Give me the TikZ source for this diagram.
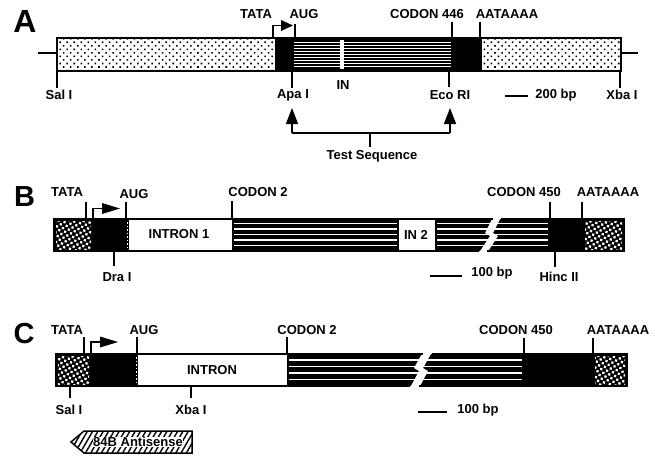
\documentclass[tikz,border=0pt]{standalone}
\usepackage{fontspec}
\setmainfont{Liberation Sans}
\usetikzlibrary{patterns.meta,arrows.meta}
\begin{document}
\begin{tikzpicture}[x=1pt,y=-1pt,
  lab/.style={font=\bfseries\fontsize{13}{13}\selectfont, inner sep=0pt},
  panelA/.style={font=\bfseries\fontsize{32}{32}\selectfont, inner sep=0pt},
  panelBC/.style={font=\bfseries\fontsize{29}{29}\selectfont, inner sep=0pt},
  tk/.style={line width=1.6pt},
  frame/.style={line width=2.6pt},
  lightdots/.style={pattern={Dots[radius=1.1pt,distance=5pt,angle=45]}},
  darkdots/.style={pattern={Dots[radius=1.6pt,distance=4.3pt,angle=30]}, pattern color=white},
  promo/.style={line width=1.6pt},
  tri/.style={fill=black},
  bigarrow/.style={line width=1.6pt, -{Triangle[length=16pt,width=12pt]}},
  hatch/.style={pattern={Lines[angle=60,distance=4.6pt,line width=1.4pt]}}
]
\useasboundingbox (0,0) rectangle (655,463);

%================ PANEL A ================
\node[panelA] (pA) at (25,21) {A};
\fill[white] (57,38) rectangle (275,71);
\fill[lightdots] (57,38) rectangle (275,71);
\fill[black] (275,38) rectangle (482,71);
\foreach \y in {42,45,...,68} \draw[white, line width=0.6pt] (294,\y) -- (451,\y);
\fill[white] (340,40) rectangle (344,69);
\fill[white] (482,38) rectangle (621,71);
\fill[lightdots] (482,38) rectangle (621,71);
\draw[frame] (57,38) rectangle (621,71);
\coordinate (lA) at (38,53);
\coordinate (rA) at (638,53);
\draw[tk] (lA) -- (57,53);
\draw[tk] (621,53) -- (rA);
% promoter arrow
\draw[promo] (273,38) -- (273,25.5) -- (282,25.5);
\fill[tri] (281,20) -- (293,25.5) -- (281,31) -- cycle;
% ticks above
\draw[tk] (295,24) -- (295,38);
\draw[tk] (452,22) -- (452,38);
\draw[tk] (480,22) -- (480,38);
% ticks below
\draw[tk] (57,71) -- (57,88);
\draw[tk] (292,71) -- (292,88);
\draw[tk] (449,71) -- (449,87);
\draw[tk] (620,71) -- (620,88);
% labels
\node[lab] (tataA) at (256,14) {TATA};
\node[lab] (augA) at (304,14) {AUG};
\node[lab] (codA) at (427,14) {CODON 446};
\node[lab] (aatA) at (507,14) {AATAAAA};
\node[lab] (salA) at (59,95) {Sal I};
\node[lab] (apaA) at (293,95) {Apa I};
\node[lab] (inA) at (343,85) {IN};
\node[lab] (ecoA) at (450,95) {Eco RI};
\node[lab] (bpA) at (556,95) {200 bp};
\node[lab] (xbaA) at (622,95) {Xba I};
\draw[tk] (505,96) -- (528,96);
% test sequence bracket
\coordinate (tl) at (292,133);
\coordinate (tr) at (450,133);
\coordinate (tm) at (370,133);
\draw[tk] (tl) -- (tr);
\draw[tk] (tm) -- (370,147);
\draw[bigarrow] (tl) -- (292,108);
\draw[bigarrow] (tr) -- (450,108);
\node[lab] (testA) at (372,156) {Test Sequence};

%================ PANEL B ================
\node[panelBC] (pB) at (24.5,196.5) {B};
\fill[black] (54,219) rectangle (129,251);
\fill[darkdots] (56,221) rectangle (91,249);
\draw[white, line width=1pt, dash pattern=on 1.5pt off 2pt] (127,222) -- (127,249);
\fill[white] (129,219) rectangle (232,251);
\fill[black] (232,219) -- (494,219) -- (486,233) -- (491,236) -- (480,251) -- (232,251) -- cycle;
\fill[black] (500,219) -- (624,219) -- (624,251) -- (486,251) -- (497,236) -- (492,233) -- cycle;
\foreach \y in {223.5,229,234.5,240,245.5} \draw[white, line width=1.8pt] (234,\y) -- (548,\y);
\fill[white] (493,217) -- (501,217) -- (493,233) -- (498,236) -- (487,253) -- (479,253) -- (490,236) -- (485,233) -- cycle;
\fill[darkdots] (585,221) rectangle (622,249);
\draw[line width=1.2pt, fill=white] (398,219) rectangle (436,251);
\draw[frame] (493,219) -- (54,219) -- (54,251) -- (479,251);
\draw[frame] (501,219) -- (624,219) -- (624,251) -- (487,251);
% promoter
\draw[promo] (93,219) -- (93,208.5) -- (103,208.5);
\fill[tri] (102,203) -- (120,208.5) -- (102,214) -- cycle;
% ticks
\draw[tk] (86,202) -- (86,219);
\draw[tk] (126,202) -- (126,219);
\draw[tk] (232,201) -- (232,219);
\draw[tk] (550,202) -- (550,219);
\draw[tk] (582,202) -- (582,219);
\draw[tk] (114,251) -- (114,266);
\draw[tk] (555,251) -- (555,267);
% labels
\node[lab] (tataB) at (67,192) {TATA};
\node[lab] (augB) at (134,194) {AUG};
\node[lab] (codB) at (258,192) {CODON 2};
\node[lab] (cod450B) at (524,192) {CODON 450};
\node[lab] (aatB) at (608,192) {AATAAAA};
\node[lab] (intB) at (179,234) {INTRON 1};
\node[lab] (in2B) at (416,235) {IN 2};
\node[lab] (draB) at (117,277) {Dra I};
\node[lab] (hincB) at (559,277) {Hinc II};
\node[lab] (bpB) at (492,273) {100 bp};
\draw[tk] (430,276) -- (462,276);

%================ PANEL C ================
\node[panelBC] (pC) at (24,334) {C};
\fill[black] (56,354) rectangle (138,386);
\fill[darkdots] (58,356) rectangle (89,384);
\draw[white, line width=1pt, dash pattern=on 1.5pt off 2pt] (136,357) -- (136,384);
\fill[white] (138,354) rectangle (287,386);
\fill[black] (287,354) -- (424,354) -- (415,368) -- (420,371) -- (411,386) -- (287,386) -- cycle;
\fill[black] (431,354) -- (627,354) -- (627,386) -- (418,386) -- (427,371) -- (422,368) -- cycle;
\foreach \y in {360,366.5,373,379.5} \draw[white, line width=1.4pt] (289,\y) -- (522,\y);
\fill[white] (423,352) -- (432,352) -- (423,368) -- (428,371) -- (419,388) -- (410,388) -- (419,371) -- (414,368) -- cycle;
\fill[black] (522,355) rectangle (593,385);
\fill[darkdots] (595,356) rectangle (625,384);
\draw[frame] (423,354) -- (56,354) -- (56,386) -- (410,386);
\draw[frame] (432,354) -- (627,354) -- (627,386) -- (419,386);
% promoter
\draw[promo] (91,354) -- (91,342) -- (101,342);
\fill[tri] (100,336.5) -- (118,342) -- (100,347.5) -- cycle;
% ticks
\draw[tk] (84,337) -- (84,354);
\draw[tk] (137,337) -- (137,354);
\draw[tk] (287,337) -- (287,354);
\draw[tk] (524,338) -- (524,354);
\draw[tk] (593,338) -- (593,354);
\draw[tk] (70,386) -- (70,398);
\draw[tk] (191,386) -- (191,398);
% labels
\node[lab] (tataC) at (67,330) {TATA};
\node[lab] (augC) at (144,330) {AUG};
\node[lab] (codC) at (307,330) {CODON 2};
\node[lab] (cod450C) at (516,330) {CODON 450};
\node[lab] (aatC) at (618,330) {AATAAAA};
\node[lab] (intC) at (212,370) {INTRON};
\node[lab] (salC) at (69,410) {Sal I};
\node[lab] (xbaC) at (191,410) {Xba I};
\node[lab] (bpC) at (478,410) {100 bp};
\draw[tk] (418,412) -- (447,412);
% antisense arrow
\draw[line width=1.5pt, hatch] (71,442) -- (84,431) -- (192,431) -- (192,453) -- (84,453) -- cycle;
\node[lab, fill=white, inner sep=0.6pt] (anti) at (138,442) {84B Antisense};
\end{tikzpicture}
\end{document}
